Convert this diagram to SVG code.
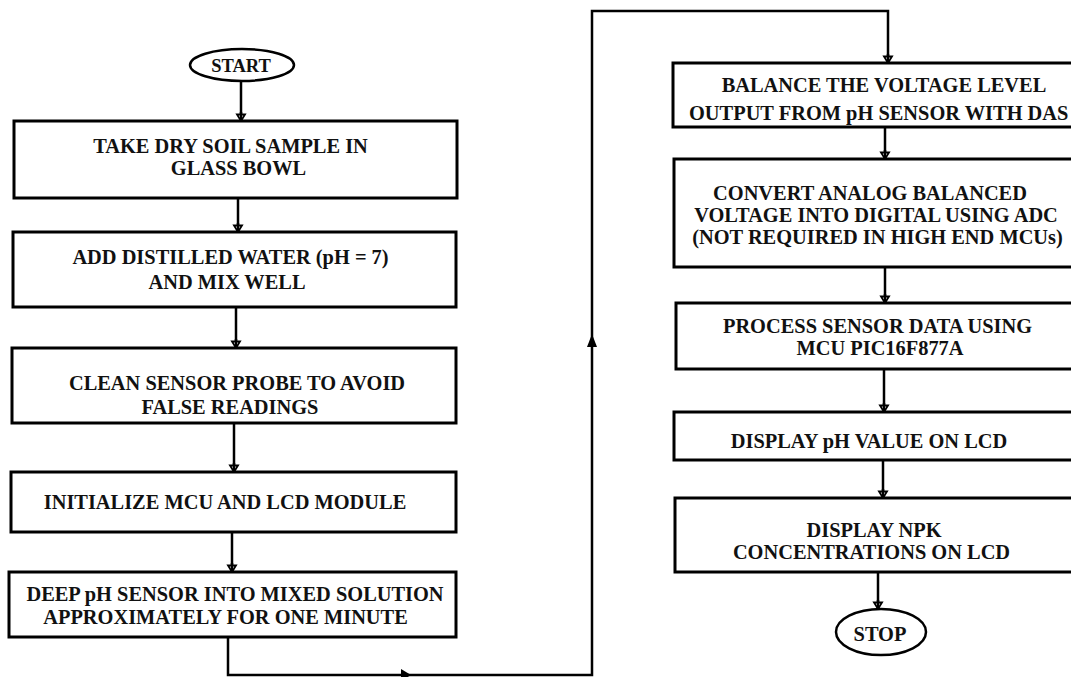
<svg xmlns="http://www.w3.org/2000/svg" width="1071" height="677" viewBox="0 0 1071 677">
  <style>
    .box { fill: #ffffff; stroke: #000000; stroke-width: 3; }
    .term { fill: #ffffff; stroke: #000000; stroke-width: 2.5; }
    .t { font-family: "Liberation Serif", "Times New Roman", serif; font-weight: bold; font-size: 20.4px; fill: #111111; text-anchor: middle; }
    .ts { text-anchor: start; }
    .conn { fill: none; stroke: #000000; stroke-width: 2.5; }
    .head { fill: #000000; stroke: none; }
  </style>
  <defs>
    <marker id="dn" markerUnits="userSpaceOnUse" markerWidth="12" markerHeight="10" viewBox="0 0 12 10" refX="6" refY="9" orient="0">
      <path d="M2,2.5 L10,2.5 L6,9 Z" fill="#ffffff" stroke="#000000" stroke-width="1.8"/>
      <path d="M6,0 L6,9" stroke="#000000" stroke-width="2.5"/>
    </marker>
  </defs>

  <rect width="1071" height="677" fill="#ffffff"/>

  <g id="connectors">
    <path class="conn" d="M241,81 V121" marker-end="url(#dn)"/>
    <path class="conn" d="M238,198 V232" marker-end="url(#dn)"/>
    <path class="conn" d="M236,307 V348" marker-end="url(#dn)"/>
    <path class="conn" d="M234,423 V472" marker-end="url(#dn)"/>
    <path class="conn" d="M232,532 V572" marker-end="url(#dn)"/>
    <path class="conn" d="M228,637 V675 H592 V11 H888 V63" marker-end="url(#dn)"/>
    <polygon class="head" points="401,669 411,675 401,681"/>
    <polygon class="head" points="587,347 592,334 597,347"/>
    <path class="conn" d="M885,127 V159" marker-end="url(#dn)"/>
    <path class="conn" d="M885,267 V303" marker-end="url(#dn)"/>
    <path class="conn" d="M884,369 V412" marker-end="url(#dn)"/>
    <path class="conn" d="M883,460 V498" marker-end="url(#dn)"/>
    <path class="conn" d="M878,572 V609" marker-end="url(#dn)"/>
  </g>

  <g id="start">
    <ellipse class="term" cx="242" cy="65" rx="52" ry="16"/>
    <text class="t" x="241" y="72" style="font-size:18.5px">START</text>
  </g>

  <g id="take-sample">
    <rect class="box" x="14" y="121" width="443" height="77"/>
    <text class="t" x="230.5" y="153">TAKE DRY SOIL SAMPLE IN</text>
    <text class="t" x="238.5" y="175">GLASS BOWL</text>
  </g>

  <g id="add-water">
    <rect class="box" x="13" y="232" width="443" height="75"/>
    <text class="t" x="230.5" y="264">ADD DISTILLED WATER (pH = 7)</text>
    <text class="t" x="227" y="289">AND MIX WELL</text>
  </g>

  <g id="clean-probe">
    <rect class="box" x="12" y="348" width="444" height="75"/>
    <text class="t" x="237" y="390">CLEAN SENSOR PROBE TO AVOID</text>
    <text class="t" x="230" y="414">FALSE READINGS</text>
  </g>

  <g id="init-mcu">
    <rect class="box" x="11" y="472" width="445" height="60"/>
    <text class="t" x="225" y="509">INITIALIZE MCU AND LCD MODULE</text>
  </g>

  <g id="deep-sensor">
    <rect class="box" x="9" y="572" width="447" height="65"/>
    <text class="t" x="235" y="601">DEEP pH SENSOR INTO MIXED SOLUTION</text>
    <text class="t" x="225.5" y="624">APPROXIMATELY FOR ONE MINUTE</text>
  </g>

  <g id="balance-voltage">
    <rect class="box" x="673" y="63" width="420" height="64"/>
    <text class="t" x="884" y="92">BALANCE THE VOLTAGE LEVEL</text>
    <text class="t ts" x="689" y="120">OUTPUT FROM pH SENSOR WITH DAS</text>
  </g>

  <g id="convert-adc">
    <rect class="box" x="674" y="159" width="420" height="108"/>
    <text class="t" x="870" y="200">CONVERT ANALOG BALANCED</text>
    <text class="t" x="876" y="222">VOLTAGE INTO DIGITAL USING ADC</text>
    <text class="t" x="877.5" y="244">(NOT REQUIRED IN HIGH END MCUs)</text>
  </g>

  <g id="process-data">
    <rect class="box" x="676" y="303" width="420" height="66"/>
    <text class="t" x="877.5" y="333">PROCESS SENSOR DATA USING</text>
    <text class="t" x="880" y="355">MCU PIC16F877A</text>
  </g>

  <g id="display-ph">
    <rect class="box" x="674" y="412" width="420" height="48"/>
    <text class="t" x="869" y="448">DISPLAY pH VALUE ON LCD</text>
  </g>

  <g id="display-npk">
    <rect class="box" x="675" y="498" width="420" height="74"/>
    <text class="t" x="874" y="537">DISPLAY NPK</text>
    <text class="t" x="871.5" y="559">CONCENTRATIONS ON LCD</text>
  </g>

  <g id="stop">
    <ellipse class="term" cx="881" cy="632" rx="45" ry="23"/>
    <text class="t" x="880" y="641">STOP</text>
  </g>
</svg>
